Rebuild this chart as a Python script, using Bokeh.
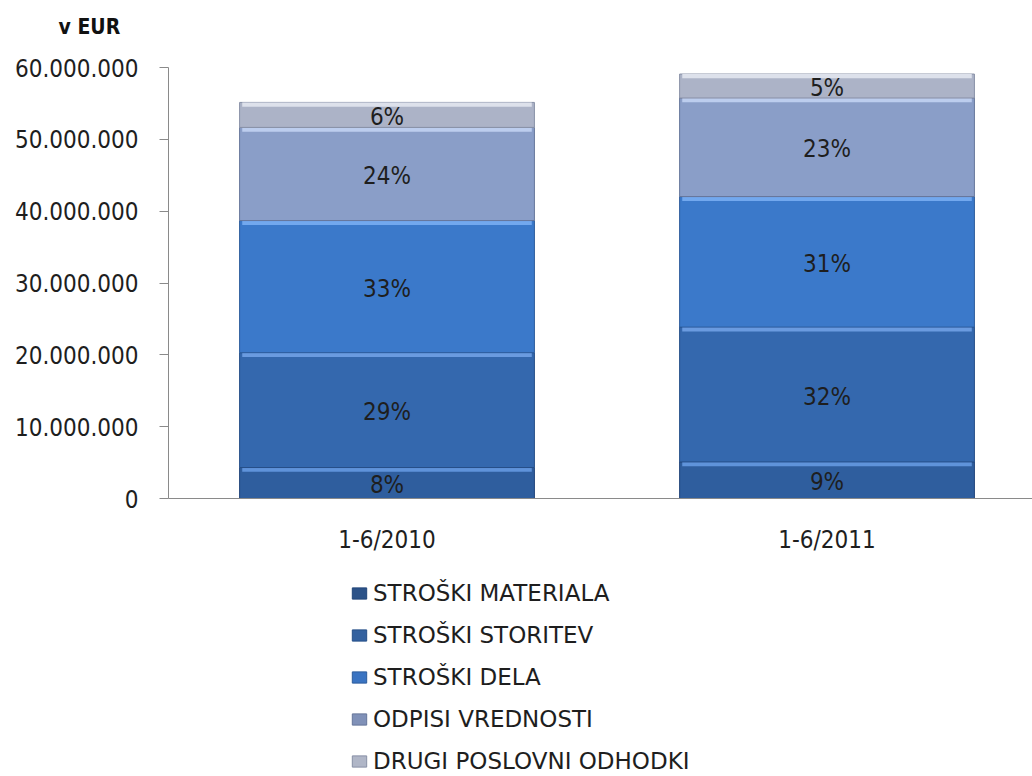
import numpy as np
from bokeh.plotting import figure
from bokeh.layouts import column
from bokeh.models import Range1d, FixedTicker, Legend, LegendItem
from bokeh.embed import file_html
from bokeh.resources import INLINE
from bokeh.core.properties import value

# ---------------- data ----------------
categories = ["1-6/2010", "1-6/2011"]
series_names = ["STROŠKI MATERIALA", "STROŠKI STORITEV", "STROŠKI DELA",
                "ODPISI VREDNOSTI", "DRUGI POSLOVNI ODHODKI"]
materiala = [4.31e6, 5.09e6]
storitev = [15.99e6, 18.77e6]
dela = [18.39e6, 18.17e6]
odpisi = [12.97e6, 13.72e6]
drugi = [3.48e6, 3.34e6]
pct_materiala = ["8%", "9%"]
pct_storitev = ["29%", "32%"]
pct_dela = ["33%", "31%"]
pct_odpisi = ["24%", "23%"]
pct_drugi = ["6%", "5%"]
y_ticks = [0, 10000000, 20000000, 30000000, 40000000, 50000000, 60000000]
y_tick_labels = ["0", "10.000.000", "20.000.000", "30.000.000",
                 "40.000.000", "50.000.000", "60.000.000"]
unit_label = "v EUR"

# ---------------- styles ----------------
FONT = "DejaVu Sans Condensed"
LEG_FONT = "DejaVu Sans"
TXT = "#1e1e1e"
fills = ["#2f5e9e", "#3468ae", "#3b79ca", "#8a9ec8", "#acb3c7"]
highlights = ["#5f93da", "#6a9be0", "#72a8ee", "#bccdee", "#dde1eb"]
edges = ["#22457a", "#264f88", "#2c5c9c", "#66769a", "#8890a6"]
legend_fills = ["#2c5288", "#33619f", "#3a74c2", "#8091b8", "#b0b6c7"]
BAR_W = 0.67
BEVEL = 0.6e6

values = [materiala, storitev, dela, odpisi, drugi]
pcts = [pct_materiala, pct_storitev, pct_dela, pct_odpisi, pct_drugi]
xs = np.arange(len(categories))

TOP_H = 53
MAIN_H = 513
LEG_H = 776 - TOP_H - MAIN_H

# ---- top strip carrying the unit caption ----
pt = figure(width=1032, height=TOP_H, output_backend="svg", toolbar_location=None,
            min_border=0, x_range=Range1d(0, 1), y_range=Range1d(0, 1))
pt.outline_line_color = None
pt.axis.visible = False
pt.grid.grid_line_color = None
pt.title.text = unit_label
pt.title.text_font = FONT
pt.title.text_font_size = "21px"
pt.title.text_font_style = "bold"
pt.title.text_color = "#111111"
pt.title.align = "left"
pt.title.offset = -110
pt.title.standoff = 24

# ---- main chart ----
p = figure(width=1032, height=MAIN_H, output_backend="svg", toolbar_location=None,
           x_range=Range1d(-0.4966, 1.467), y_range=Range1d(0, 60e6),
           min_border_left=168, min_border_right=0, min_border_top=14,
           min_border_bottom=68)
p.background_fill_color = "white"
p.border_fill_color = "white"
p.outline_line_color = None
p.grid.grid_line_color = None

bottom = np.zeros(len(categories))
for vals, pc, f, h, e in zip(values, pcts, fills, highlights, edges):
    v = np.array(vals)
    top = bottom + v
    p.vbar(x=xs, bottom=bottom, top=top, width=BAR_W, fill_color=f,
           line_color=e, line_width=1)
    p.vbar(x=xs, bottom=top - BEVEL, top=top, width=BAR_W - 0.012,
           fill_color=h, line_color=None)
    p.text(x=xs, y=(bottom + top) / 2, text=pc, text_align="center",
           text_baseline="middle", text_font=value(FONT),
           text_font_size="24px", text_color=TXT, y_offset=2)
    bottom = top

p.yaxis.ticker = FixedTicker(ticks=y_ticks)
p.yaxis.major_label_overrides = dict(zip(y_ticks, y_tick_labels))
p.yaxis.axis_line_color = "#8a8a8a"
p.yaxis.major_tick_line_color = "#8a8a8a"
p.yaxis.major_tick_out = 9
p.yaxis.major_tick_in = 0
p.yaxis.minor_tick_line_color = None
p.yaxis.major_label_standoff = 21
p.yaxis.major_label_text_font = FONT
p.yaxis.major_label_text_font_size = "24px"
p.yaxis.major_label_text_color = TXT

p.xaxis.ticker = FixedTicker(ticks=list(xs))
p.xaxis.major_label_overrides = {int(i): c for i, c in zip(xs, categories)}
p.xaxis.axis_line_color = "#8a8a8a"
p.xaxis.major_tick_line_color = None
p.xaxis.major_tick_out = 0
p.xaxis.major_tick_in = 0
p.xaxis.minor_tick_line_color = None
p.xaxis.major_label_standoff = 27
p.xaxis.major_label_text_font = FONT
p.xaxis.major_label_text_font_size = "24px"
p.xaxis.major_label_text_color = TXT

# ---- legend strip ----
pl = figure(width=1032, height=LEG_H, output_backend="svg", toolbar_location=None,
            min_border=0, x_range=Range1d(0, 1), y_range=Range1d(0, 1))
pl.outline_line_color = None
pl.axis.visible = False
pl.grid.grid_line_color = None
leg_renderers = [pl.vbar(x=[np.nan], top=[np.nan], width=0.5, fill_color=f, line_color=e)
                 for f, e in zip(legend_fills, edges)]
legend = Legend(items=[LegendItem(label=n, renderers=[r])
                       for n, r in zip(series_names, leg_renderers)],
                location=(182, 2))
legend.orientation = "vertical"
legend.label_text_font = LEG_FONT
legend.label_text_font_size = "23px"
legend.label_text_color = TXT
legend.label_height = 27
legend.glyph_width = 18
legend.glyph_height = 14
legend.label_standoff = 5
legend.spacing = 15
legend.padding = 0
legend.margin = 0
legend.border_line_color = None
legend.background_fill_alpha = 0
pl.add_layout(legend, "center")

layout = column(pt, p, pl, spacing=0)
open("out.html", "w").write(file_html(layout, INLINE))
